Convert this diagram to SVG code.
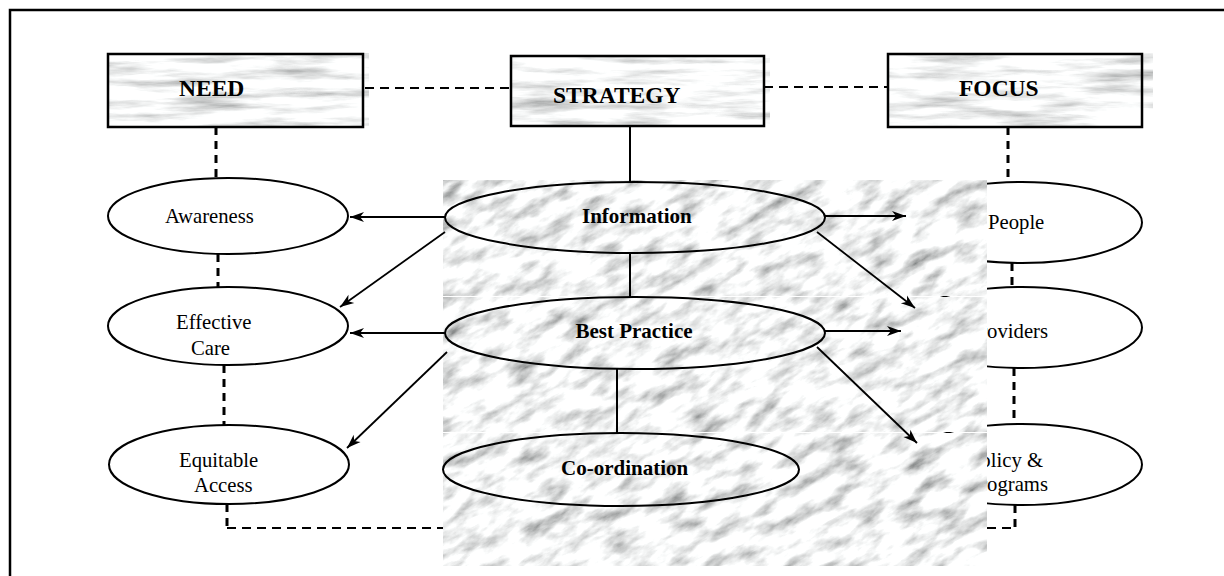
<svg xmlns="http://www.w3.org/2000/svg" width="1224" height="576" viewBox="0 0 1224 576">
  <style>
    .frame { fill: none; stroke: #000; stroke-width: 2.5; }
    .box { fill: none; stroke: #000; stroke-width: 2.5; }
    .title { font-family: "Liberation Serif", "Times New Roman", serif; font-weight: bold; font-size: 23.5px; fill: #000; }
    .lbl { font-family: "Liberation Serif", "Times New Roman", serif; font-size: 20.7px; fill: #000; }
    .blbl { font-family: "Liberation Serif", "Times New Roman", serif; font-weight: bold; font-size: 21px; fill: #000; }
    .oval { fill: #fff; stroke: #000; stroke-width: 2; }
    .oval-open { fill: none; stroke: #000; stroke-width: 2; }
    .dashH { fill: none; stroke: #000; stroke-width: 2; stroke-dasharray: 9 6; }
    .dashV { fill: none; stroke: #000; stroke-width: 3; stroke-dasharray: 8 6; }
    .solid { fill: none; stroke: #000; stroke-width: 2; }
    .arrow { fill: none; stroke: #000; stroke-width: 1.8; marker-end: url(#ah); }
  </style>
  <defs>
    <!-- horizontal streaky marble for the header boxes -->
    <filter id="marbleH" x="0" y="0" width="1" height="1">
      <feTurbulence type="fractalNoise" baseFrequency="0.012 0.1" numOctaves="5" seed="2"/>
      <feColorMatrix type="matrix" values="1.3 0 0 0 0.28  1.3 0 0 0 0.29  1.3 0 0 0 0.29  0 0 0 0 1"/>
    </filter>
    <!-- blotchy marble for the central panel -->
    <filter id="marbleV" x="0" y="0" width="1" height="1">
      <feTurbulence type="fractalNoise" baseFrequency="0.03 0.075" numOctaves="5" seed="7"/>
      <feColorMatrix type="matrix" values="1.6 0 0 0 0.1  1.6 0 0 0 0.11  1.6 0 0 0 0.11  0 0 0 0 1"/>
    </filter>
    <clipPath id="panelClip">
      <rect x="443" y="180" width="544" height="116"/>
      <rect x="443" y="297" width="544" height="135"/>
      <rect x="443" y="433" width="544" height="133"/>
    </clipPath>
    <marker id="ah" viewBox="-15 -6 16 12" refX="0" refY="0" markerWidth="16" markerHeight="12" markerUnits="userSpaceOnUse" orient="auto">
      <path d="M0,0 L-14,-5 L-10,0 L-14,5 Z" fill="#000"/>
    </marker>
  </defs>

  <rect width="1224" height="576" fill="#fff"/>
  <rect class="frame" x="10" y="10" width="1240" height="600"/>

  <!-- header boxes -->
  <g id="need">
    <rect x="108" y="53" width="261" height="73" filter="url(#marbleH)"/>
    <rect class="box" x="108" y="54" width="255" height="73"/>
    <text class="title" x="179" y="96">NEED</text>
  </g>
  <g id="strategy">
    <rect x="511" y="55" width="259" height="71" filter="url(#marbleH)"/>
    <rect class="box" x="511" y="56" width="253" height="70"/>
    <text class="title" x="553" y="103">STRATEGY</text>
  </g>
  <g id="focus">
    <rect x="888" y="53" width="265" height="73" filter="url(#marbleH)"/>
    <rect class="box" x="888" y="54" width="254" height="73"/>
    <text class="title" x="959" y="96">FOCUS</text>
  </g>

  <!-- need column -->
  <g id="awareness">
    <ellipse class="oval" cx="228" cy="216" rx="120" ry="38"/>
    <text class="lbl" x="165" y="223">Awareness</text>
  </g>
  <g id="effective-care">
    <ellipse class="oval" cx="228" cy="326" rx="120" ry="39"/>
    <text class="lbl" x="176" y="329">Effective</text>
    <text class="lbl" x="191" y="355">Care</text>
  </g>
  <g id="equitable-access">
    <ellipse class="oval" cx="229" cy="464.5" rx="120" ry="39.5"/>
    <text class="lbl" x="179" y="467">Equitable</text>
    <text class="lbl" x="194" y="492">Access</text>
  </g>

  <!-- focus column -->
  <g id="people">
    <ellipse class="oval" cx="1022" cy="222.5" rx="120" ry="40.5"/>
    <text class="lbl" x="988" y="229">People</text>
  </g>
  <g id="providers">
    <ellipse class="oval" cx="1022" cy="327.5" rx="120" ry="40.5"/>
    <text class="lbl" x="1048" y="338" text-anchor="end">Providers</text>
  </g>
  <g id="policy-programs">
    <ellipse class="oval" cx="1022" cy="464.5" rx="120" ry="40.5"/>
    <text class="lbl" x="1043" y="467" text-anchor="end">Policy &amp;</text>
    <text class="lbl" x="1048" y="491" text-anchor="end">Programs</text>
  </g>

  <!-- dashed links behind the central panel -->
  <g id="dashed-links">
    <path class="dashH" d="M365,88 L511,88"/>
    <path class="dashH" d="M764,87 L888,87"/>
    <path class="dashV" d="M216,127 L216,178"/>
    <path class="dashV" d="M218,254 L218,287"/>
    <path class="dashV" d="M224,365 L224,425"/>
    <path class="dashV" d="M227,504 L227,528"/>
    <path class="dashH" d="M227,528 L445,528"/>
    <path class="dashH" d="M987,528 L1015,528"/>
    <path class="dashV" d="M1015,505 L1015,528"/>
    <path class="dashV" d="M1008,127 L1008,182"/>
    <path class="dashV" d="M1012,263 L1012,287"/>
    <path class="dashV" d="M1014,368 L1014,424"/>
  </g>

  <!-- central marble panel -->
  <g id="panel" clip-path="url(#panelClip)">
    <rect x="300" y="60" width="830" height="630" transform="rotate(-30 715 373)" filter="url(#marbleV)"/>
  </g>

  <!-- strategy column -->
  <g id="information">
    <ellipse class="oval-open" cx="635" cy="217.5" rx="190" ry="35.5"/>
    <text class="blbl" x="582" y="223">Information</text>
  </g>
  <g id="best-practice">
    <ellipse class="oval-open" cx="635" cy="333" rx="190" ry="36"/>
    <text class="blbl" x="634" y="338" text-anchor="middle">Best Practice</text>
  </g>
  <g id="co-ordination">
    <ellipse class="oval-open" cx="621" cy="469.5" rx="178" ry="36.5"/>
    <text class="blbl" x="561" y="475">Co-ordination</text>
  </g>

  <!-- connectors -->
  <g id="connectors">
    <path class="solid" d="M630,126 L630,182"/>
    <path class="solid" d="M630,253 L630,297"/>
    <path class="solid" d="M617,369 L617,433"/>
    <path class="arrow" d="M445,217 L350,217"/>
    <path class="arrow" d="M445,232 L340,307"/>
    <path class="arrow" d="M445,333 L350,333"/>
    <path class="arrow" d="M447,352 L347,448"/>
    <path class="arrow" d="M825,216 L906,216"/>
    <path class="arrow" d="M817,232 L915,308"/>
    <path class="arrow" d="M825,331 L901,331"/>
    <path class="arrow" d="M817,347 L917,443"/>
  </g>
</svg>
